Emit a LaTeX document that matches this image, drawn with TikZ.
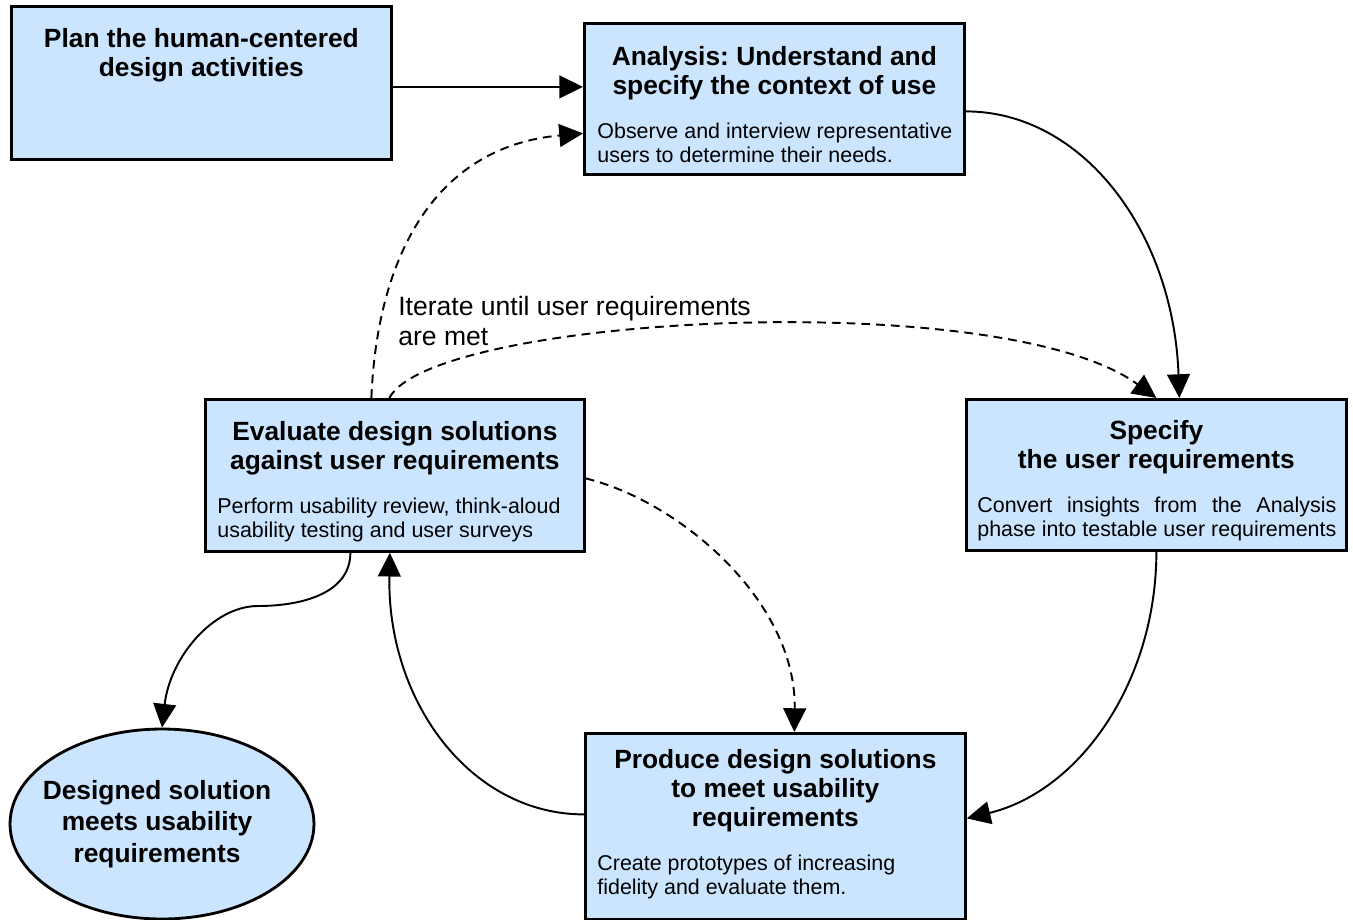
\documentclass[tikz,border=0pt]{standalone}
\usepackage{fontspec}
\setmainfont{Liberation Sans}
\usetikzlibrary{arrows.meta,calc,shapes.geometric}

\frenchspacing
\definecolor{boxblue}{RGB}{204,229,255}
\newcommand\boxtitle{\centering\fontsize{15pt}{16.7pt}\selectfont\bfseries}
\newcommand\boxtext{\raggedright\fontsize{12.2pt}{13.6pt}\selectfont\mdseries}

\tikzset{
  stage/.style={draw, line width=1.6pt, fill=boxblue, inner sep=0pt, anchor=north west},
  goal/.style={ellipse, draw, line width=1.6pt, fill=boxblue, inner sep=0pt,
    minimum width=6.08cm, minimum height=3.8cm},
  goaltext/.style={align=center, inner sep=0pt, xshift=-0.1cm,
    font=\fontsize{15pt}{18pt}\selectfont\bfseries},
  flowline/.style={line width=1.1pt, -{Triangle[length=13.5pt,width=13pt]}},
  iterline/.style={flowline, dash pattern=on 5pt off 3.4pt},
}

\begin{document}
\begin{tikzpicture}[x=0.02cm, y=-0.02cm]
    \useasboundingbox (0,0) rectangle (1353,920);
    % the five stages
    \node[stage] (plan) at (10,5) {\parbox[c][3.06cm][t]{7.6cm}{\boxtitle\rule{0pt}{23.2pt}Plan the human-centered\\design activities\par}};
    \node[stage] (anal) at (583,22) {\parbox[c][3.02cm][t]{7.6cm}{\boxtitle\rule{0pt}{23.8pt}Analysis: Understand and\\specify the context of use\par
      \vspace{11.3pt}\boxtext\leftskip=0.26cm Observe and interview representative\\users to determine their needs.}};
    \node[stage] (spec) at (965,398) {\parbox[c][3.02cm][t]{7.6cm}{\boxtitle\rule{0pt}{22.7pt}Specify\\the user requirements\par
      \vspace{11.3pt}\boxtext\leftskip=0.22cm\rightskip=0.2cm Convert\hfill insights\hfill from\hfill the\hfill Analysis\\phase into testable user requirements}};
    \node[stage] (eval) at (204,398) {\parbox[c][3.04cm][t]{7.58cm}{\boxtitle\rule{0pt}{23.2pt}Evaluate design solutions\\against user requirements\par
      \vspace{11.3pt}\boxtext\leftskip=0.24cm Perform usability review, think-aloud\\usability testing and user surveys}};
    \node[stage] (prod) at (584,732) {\parbox[c][3.72cm][t]{7.6cm}{\boxtitle\rule{0pt}{19.8pt}Produce design solutions\\to meet usability\\requirements\par
      \vspace{11.3pt}\boxtext\leftskip=0.24cm Create prototypes of increasing\\fidelity and evaluate them.}};
    \node[goal, label={[goaltext]center:Designed solution\\meets usability\\requirements}] (sol) at (162,824) {};
    \node[anchor=north west, align=left, inner sep=0pt, font=\fontsize{15.1pt}{17pt}\selectfont] (iter) at (398,296) {Iterate until user requirements\\are met};
    % main cycle
    \draw[flowline] ($(plan.east)+(0,4)$) -- ($(plan.east -| anal.west)+(0,4)$);
    \draw[flowline] ($(anal.east)+(0,12.5)$) .. controls +(117,0) and +(-6,-166) .. ($(spec.north)+(23,0)$);
    \draw[flowline] (spec.south) .. controls +(0,131) and +(112,-27) .. ($(prod.east)+(0,-8)$);
    \draw[flowline] ($(prod.west)+(0,-12)$) .. controls +(-114,0) and +(-3,148) .. ($(eval.south)+(-5,0)$);
    \coordinate (kink) at (258,606);
    \draw[flowline] ($(eval.south)+(-44.5,0)$) .. controls +(0,40) and +(45,0) .. (kink)
      .. controls +(-45,0) and +(8,-70) .. (sol.north);
    % iterations
    \draw[iterline] ($(eval.north)+(-23.5,0)$) .. controls +(6,-145) and +(-146,13) .. ($(anal.west)+(0,34.5)$);
    \draw[iterline] ($(eval.north)+(-5.5,0)$) .. controls +(42,-82) and +(-155,-113) .. (spec.north);
    \draw[iterline] ($(eval.east)+(0,3)$) .. controls +(94,23) and +(2,-131) .. ($(prod.north)+(19,0)$);
\end{tikzpicture}
\end{document}
